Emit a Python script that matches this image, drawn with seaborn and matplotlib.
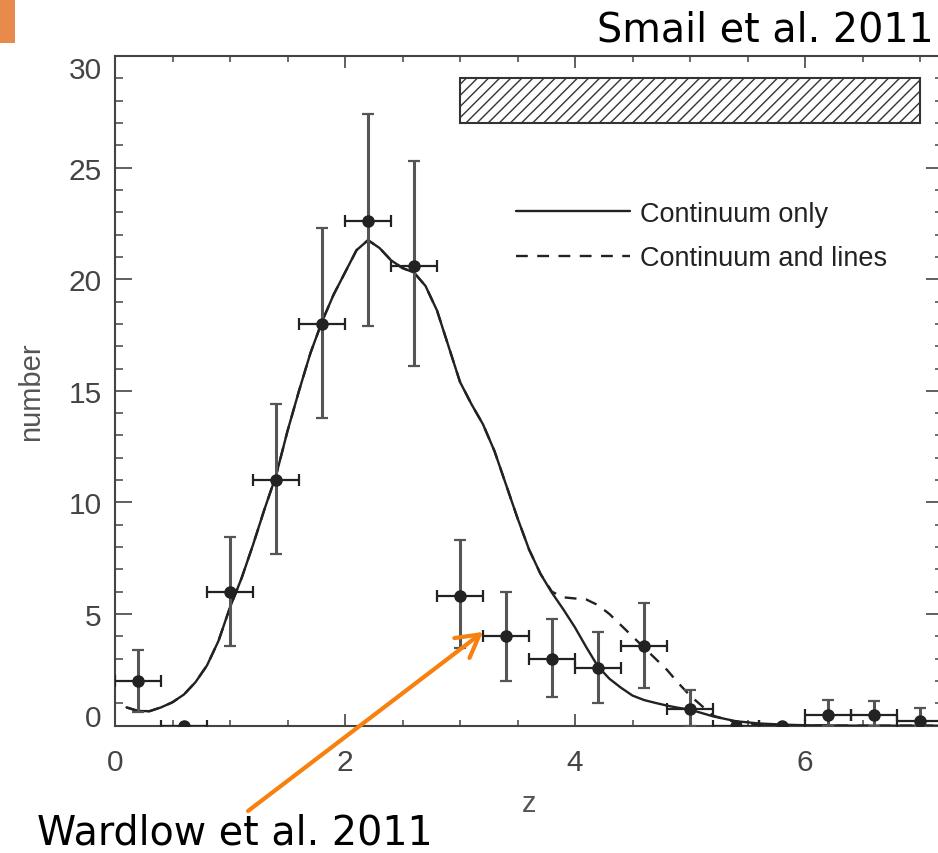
import numpy as np
import pandas as pd
import matplotlib
matplotlib.use("Agg")
import matplotlib.pyplot as plt
from matplotlib.patches import Rectangle
from matplotlib.ticker import MultipleLocator, FixedLocator
import seaborn as sns

# ---------------- data ----------------
z_bins = [0.2, 0.6, 1.0, 1.4, 1.8, 2.2, 2.6, 3.0, 3.4, 3.8, 4.2, 4.6, 5.0, 5.4, 5.8, 6.2, 6.6, 7.0]
counts = [2.0, 0.0, 6.0, 11.0, 18.0, 22.6, 20.6, 5.8, 4.0, 3.0, 2.6, 3.55, 0.75, 0.0, 0.0, 0.5, 0.5, 0.2]
err_low = [1.4, 0.0, 2.45, 3.3, 4.2, 4.7, 4.5, 2.3, 2.0, 1.7, 1.6, 1.85, 0.75, 0.0, 0.0, 0.5, 0.5, 0.2]
err_high = [1.4, 0.0, 2.45, 3.4, 4.3, 4.8, 4.7, 2.5, 2.0, 1.8, 1.6, 1.95, 0.85, 0.0, 0.0, 0.65, 0.6, 0.6]
bin_halfwidth = [0.2] * len(z_bins)

curve_z = [0.1, 0.2, 0.3, 0.4, 0.5, 0.6, 0.7, 0.8, 0.9, 1.0,
           1.1, 1.2, 1.3, 1.4, 1.5, 1.6, 1.7, 1.8, 1.9, 2.0,
           2.1, 2.2, 2.3, 2.4, 2.5, 2.6, 2.7, 2.8, 2.9, 3.0,
           3.1, 3.2, 3.3, 3.4, 3.5, 3.6, 3.7, 3.8, 3.9, 4.0,
           4.1, 4.2, 4.3, 4.4, 4.5, 4.6, 4.7, 4.8, 4.9, 5.0,
           5.2, 5.4, 5.6, 5.8, 6.0, 6.5, 7.0, 7.2]
continuum_only = [0.82, 0.66, 0.65, 0.82, 1.05, 1.4, 1.95, 2.7, 3.8, 5.3,
                  6.6, 8.1, 9.7, 11.2, 13.2, 15.0, 16.7, 18.1, 19.3, 20.3,
                  21.3, 21.75, 21.4, 20.85, 20.5, 20.3, 19.7, 18.6, 17.0, 15.4,
                  14.4, 13.5, 12.3, 10.8, 9.3, 7.9, 6.8, 5.95, 5.2, 4.4,
                  3.5, 2.65, 2.1, 1.7, 1.35, 1.15, 1.02, 0.9, 0.8, 0.72,
                  0.42, 0.2, 0.1, 0.05, 0.02, 0.0, 0.0, 0.0]
continuum_lines = [0.82, 0.66, 0.65, 0.82, 1.05, 1.4, 1.95, 2.7, 3.8, 5.3,
                   6.6, 8.1, 9.7, 11.2, 13.2, 15.0, 16.7, 18.1, 19.3, 20.3,
                   21.3, 21.75, 21.4, 20.85, 20.5, 20.3, 19.7, 18.6, 17.0, 15.4,
                   14.4, 13.5, 12.3, 10.8, 9.3, 7.9, 6.8, 6.0, 5.75, 5.7,
                   5.65, 5.4, 5.0, 4.5, 4.0, 3.5, 3.0, 2.5, 1.9, 1.35,
                   0.45, 0.15, 0.05, 0.02, 0.01, 0.0, 0.0, 0.0]

band_z = [3.0, 7.0]
band_n = [27.0, 29.0]

x_ticks = [0, 2, 4, 6]
y_ticks = [0, 5, 10, 15, 20, 25, 30]
legend_labels = ["Continuum only", "Continuum and lines"]

# ---------------- style ----------------
sns.set_theme(style="white")
plt.rcParams["font.family"] = ["Liberation Sans", "DejaVu Sans"]
plt.rcParams["hatch.linewidth"] = 1.0

fig = plt.figure(figsize=(9.38, 8.54), dpi=100)
ax = fig.add_axes([115 / 938, (854 - 726.7) / 854, 828 / 938, 669.7 / 854])

df = pd.DataFrame({"z": curve_z, "only": continuum_only, "lines": continuum_lines})
sns.lineplot(data=df, x="z", y="lines", ax=ax, color="#222222", lw=1.7,
             dashes=False, label=legend_labels[1], zorder=3)
ax.lines[-1].set_dashes((5, 4))
sns.lineplot(data=df, x="z", y="only", ax=ax, color="#222222", lw=1.7,
             label=legend_labels[0], zorder=4)

# error bars
ax.errorbar(z_bins, counts, yerr=[err_low, err_high], fmt="none",
            ecolor="#555555", elinewidth=2.2, capsize=4, capthick=1.6, zorder=5)
ax.errorbar(z_bins, counts, xerr=bin_halfwidth, fmt="o", color="#222222",
            ms=8, ecolor="#222222", elinewidth=1.6, capsize=4, capthick=1.6, zorder=6)

# hatched band
ax.add_patch(Rectangle((band_z[0], band_n[0]), band_z[1] - band_z[0], band_n[1] - band_n[0],
                       fill=False, hatch="///", edgecolor="#333333", lw=1.5, zorder=2))

ax.set_xlim(0, 7.2)
ax.set_ylim(0, 30)
ax.xaxis.set_major_locator(FixedLocator(x_ticks))
ax.yaxis.set_major_locator(FixedLocator(y_ticks))
ax.xaxis.set_minor_locator(MultipleLocator(0.5))
ax.yaxis.set_minor_locator(MultipleLocator(1))
ax.tick_params(axis="x", which="major", direction="in", length=8.6, width=1.2,
               top=True, bottom=True, pad=16, labelsize=21.5, labelcolor="#444444", color="#444444")
ax.tick_params(axis="x", which="minor", direction="in", length=4.3, width=1.1,
               top=True, bottom=True, color="#444444")
ax.tick_params(axis="y", which="major", direction="in", length=12, width=1.2,
               left=True, right=True, pad=9.5, labelsize=21.5, labelcolor="#444444", color="#444444")
ax.tick_params(axis="y", which="minor", direction="in", length=6, width=1.1,
               left=True, right=True, color="#444444")
for s in ax.spines.values():
    s.set_color("#444444")
    s.set_linewidth(1.5)

ax.set_xticklabels([str(t) for t in x_ticks])
ax.set_yticklabels([str(t) for t in y_ticks])
yt = ax.yaxis.get_major_ticks()
yt[0].label1.set_verticalalignment("baseline")
yt[-1].label1.set_verticalalignment("top")

ax.set_xlabel("z", fontsize=21, color="#555555")
ax.set_ylabel("number", fontsize=21, color="#555555")
ax.xaxis.set_label_coords(0.5, -0.127)
ax.xaxis.label.set_verticalalignment("baseline")
ax.yaxis.set_label_coords(-0.101, 0.5)
ax.yaxis.label.set_verticalalignment("center")

handles, labels = ax.get_legend_handles_labels()
order = [labels.index(legend_labels[0]), labels.index(legend_labels[1])]
leg = ax.legend([handles[i] for i in order], [labels[i] for i in order],
                loc="upper left", bbox_to_anchor=(0.484, 0.784), frameon=False,
                fontsize=19.5, handlelength=4.2, handletextpad=0.37,
                labelspacing=0.69, borderpad=0, borderaxespad=0)
for t in leg.get_texts():
    t.set_color("#222222")

# arrow annotation
ax.annotate("", xy=(3.2, 4.2), xytext=(1.157, -3.82), xycoords="data", textcoords="data",
            annotation_clip=False,
            arrowprops=dict(arrowstyle="->,head_length=0.8,head_width=0.45",
                            color="#F8800F", lw=3, shrinkA=0, shrinkB=0, mutation_scale=20),
            zorder=10)

fig.text(597 / 938, (854 - 42) / 854, "Smail et al. 2011", fontsize=28.5,
         family="DejaVu Sans", color="black", ha="left", va="baseline")
fig.text(37 / 938, (854 - 845) / 854, "Wardlow et al. 2011", fontsize=28.5,
         family="DejaVu Sans", color="black", ha="left", va="baseline")
fig.add_artist(Rectangle((0, (854 - 44) / 854), 15 / 938, 44 / 854,
                         transform=fig.transFigure, color="#E98A4D", lw=0))

fig.savefig("out.png", dpi=100)
